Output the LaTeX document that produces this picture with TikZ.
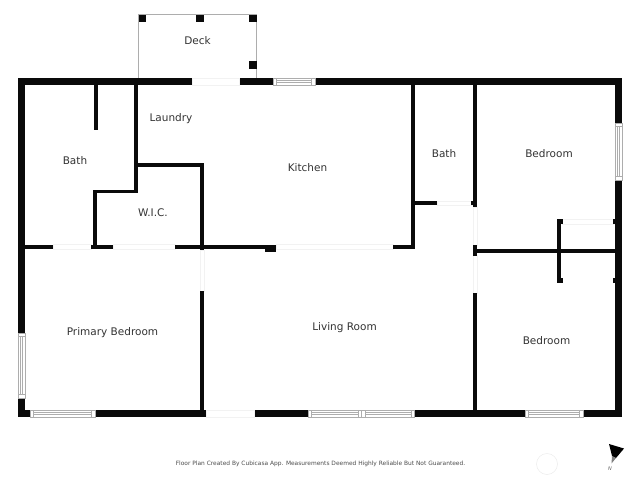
\documentclass[tikz,border=0pt]{standalone}
\usepackage{fontspec}
\setmainfont{DejaVu Sans}
\definecolor{wallc}{gray}{0.04}
\definecolor{linec}{gray}{0.68}
\definecolor{doorc}{gray}{0.95}
\definecolor{labelc}{gray}{0.2}
\tikzset{
  wall/.style={fill=wallc,draw=none},
  frameline/.style={draw=linec,line width=0.7pt},
  glass/.style={fill=white,draw=linec,line width=0.6pt},
  thinline/.style={draw=linec,line width=0.5pt},
  doorgap/.style={fill=white,draw=doorc,line width=0.5pt},
  room/.style={text=labelc,font=\fontsize{10.5}{12}\selectfont,inner sep=0pt},
  foot/.style={text=black!70,font=\fontsize{5.9}{7}\selectfont,inner sep=0pt},
}
% rectangle by pixel edges: style, x1, y1, x2, y2
\newcommand{\pxrect}[5]{\path[#1] (#2,#3) rectangle (#4,#5);}
\newcommand{\hwin}[4]{%
  \path[glass] (#1,#3) rectangle (#2,#4);
  \draw[thinline] ({#1+3.5},#3) -- ({#1+3.5},#4) ({#2-3.5},#3) -- ({#2-3.5},#4);
  \draw[thinline] ({#1+3.5},{(#3+#4)/2-1.2}) -- ({#2-3.5},{(#3+#4)/2-1.2})
                  ({#1+3.5},{(#3+#4)/2+1.2}) -- ({#2-3.5},{(#3+#4)/2+1.2});}
\newcommand{\vwin}[4]{%
  \path[glass] (#3,#1) rectangle (#4,#2);
  \draw[thinline] (#3,{#1+3.5}) -- (#4,{#1+3.5}) (#3,{#2-3.5}) -- (#4,{#2-3.5});
  \draw[thinline] ({(#3+#4)/2-1.2},{#1+3.5}) -- ({(#3+#4)/2-1.2},{#2-3.5})
                  ({(#3+#4)/2+1.2},{#1+3.5}) -- ({(#3+#4)/2+1.2},{#2-3.5});}
\begin{document}
\begin{tikzpicture}[x=1pt,y=-1pt]
\useasboundingbox (0,0) rectangle (640,480);
% deck
\draw[frameline] (138.5,78) -- (138.5,14.5) -- (256.8,14.5) -- (256.8,78);
\pxrect{wall}{138.5}{15}{146}{22}
\pxrect{wall}{196}{15}{204}{22}
\pxrect{wall}{249}{15}{257}{22}
\pxrect{wall}{249}{61}{257}{69}
% outer walls
\pxrect{wall}{18}{78}{192}{85}
\pxrect{wall}{239}{78}{273}{85}
\pxrect{wall}{315}{78}{622}{85}
\pxrect{wall}{18}{78}{25}{333}
\pxrect{wall}{18}{398}{25}{417}
\pxrect{wall}{615}{78}{622}{123}
\pxrect{wall}{615}{180}{622}{417}
\pxrect{wall}{18}{410}{30}{417}
\pxrect{wall}{95}{410}{206}{417}
\pxrect{wall}{254}{410}{308}{417}
\pxrect{wall}{414.5}{410}{525}{417}
\pxrect{wall}{583}{410}{622}{417}
% faint door openings
\pxrect{doorgap}{192}{78.5}{239}{85}
\pxrect{doorgap}{206}{410}{254}{417}
\pxrect{doorgap}{53}{244.5}{91}{249}
\pxrect{doorgap}{113}{244.5}{175}{249}
\pxrect{doorgap}{276}{244.5}{393}{249}
\pxrect{doorgap}{437}{201}{473}{205}
\pxrect{doorgap}{473}{207}{477}{245}
\pxrect{doorgap}{473}{255}{477}{293}
\pxrect{doorgap}{200}{250}{204}{291}
\pxrect{doorgap}{562}{219.5}{614}{224}
% windows
\hwin{273}{315}{78}{85}
\hwin{30}{95}{410}{417}
\hwin{308}{361.5}{410}{417}
\hwin{361.5}{414.5}{410}{417}
\hwin{525}{583}{410}{417}
\vwin{123}{180}{615}{622}
\vwin{333}{398}{18}{25}
% inner walls, left block
\pxrect{wall}{94}{85}{98}{130}
\pxrect{wall}{134}{85}{138}{193}
\pxrect{wall}{93}{189.5}{138}{193}
\pxrect{wall}{93}{190}{97}{246}
\pxrect{wall}{136}{163}{204}{166.5}
\pxrect{wall}{200}{163}{204}{250}
\pxrect{wall}{200}{291}{204}{417}
\pxrect{wall}{25}{244.5}{53}{249}
\pxrect{wall}{91}{244.5}{113}{249}
\pxrect{wall}{175}{244.5}{276}{249}
\pxrect{wall}{265}{246}{276}{252}
% inner walls, right block
\pxrect{wall}{393}{244.5}{415}{249}
\pxrect{wall}{411}{85}{415}{249}
\pxrect{wall}{415}{201}{437}{205}
\pxrect{wall}{473}{85}{477}{207}
\pxrect{wall}{471}{201}{473}{205}
\pxrect{wall}{473}{245}{477}{256}
\pxrect{wall}{477}{249}{615}{253}
\pxrect{wall}{473}{293}{477}{412}
\pxrect{wall}{557}{219}{561}{283}
\pxrect{wall}{561}{219}{563}{224}
\pxrect{wall}{561}{278}{563}{283}
\pxrect{wall}{613}{219}{615}{224}
\pxrect{wall}{613}{278}{615}{283}
% compass
\path[fill=black] (609,444) -- (624,448.5) -- (616,458) -- (612,456) -- cycle;
\path[fill=black!50] (612,456) -- (616,458) -- (611.5,463.5) -- cycle;
\node[text=black!60,font=\fontsize{5}{6}\selectfont\itshape,inner sep=0pt] (north) at (610,468.5) {N};
% logo circle
\path[draw=black!7,line width=0.6pt] (547,464) circle (10.5);
% labels
\node[room] (deck) at (197.5,41) {Deck};
\node[room] (laundry) at (171,119) {Laundry};
\node[room] (bathw) at (75,161) {Bath};
\node[room] (kitchen) at (307.5,168) {Kitchen};
\node[room] (wic) at (153,213) {W.I.C.};
\node[room] (bathe) at (444,154) {Bath};
\node[room] (bedn) at (549,154) {Bedroom};
\node[room] (primary) at (112.5,333) {Primary Bedroom};
\node[room] (living) at (344.5,327.5) {Living Room};
\node[room] (beds) at (546.5,340.5) {Bedroom};
\node[foot] (note) at (320.5,464) {Floor Plan Created By Cubicasa App. Measurements Deemed Highly Reliable But Not Guaranteed.};
\end{tikzpicture}
\end{document}
